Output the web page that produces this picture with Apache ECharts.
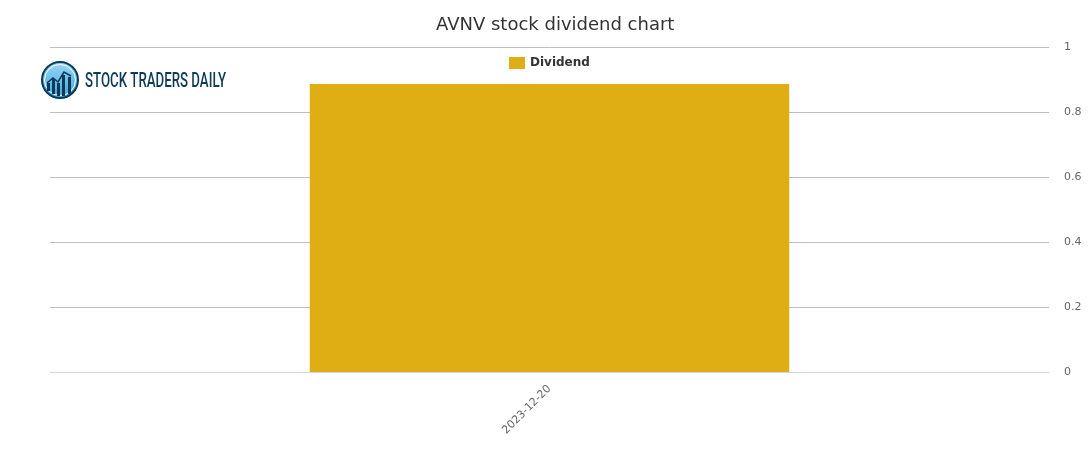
<!DOCTYPE html>
<html><head><meta charset="utf-8">
<script src="https://cdn.jsdelivr.net/npm/echarts@6/dist/echarts.min.js"></script>
<style>html,body{margin:0;padding:0;background:#fff}#c{width:1091px;height:450px}</style>
</head><body><div id="c"></div>
<script>
var categories = ['2023-12-20'];
var dividends = [0.886];
var yTicks = [0, 0.2, 0.4, 0.6, 0.8, 1];

var logoFont = '500 19px Roboto, sans-serif';
var logoText = 'STOCK TRADERS DAILY';
var cv = document.createElement('canvas').getContext('2d');
cv.font = logoFont;
var logoScale = 141 / cv.measureText(logoText).width;

var chart = echarts.init(document.getElementById('c'));
var logoX = 60, logoY = 80;
chart.setOption({
  animation: false,
  title: {text: 'AVNV stock dividend chart', left: 431, top: 11,
    textStyle: {fontFamily: 'DejaVu Sans', fontSize: 18, fontWeight: 'normal', color: '#333'}},
  legend: {data: ['Dividend'], top: 57, left: 509, itemWidth: 16, itemHeight: 12, itemGap: 5,
    icon: 'rect', padding: 0,
    textStyle: {fontFamily: 'DejaVu Sans', fontSize: 12, fontWeight: 'bold', color: '#333'}},
  grid: {left: 50, right: 42, top: 47, bottom: 78},
  xAxis: {type: 'category', data: categories,
    axisLine: {lineStyle: {color: '#ccd6eb'}}, axisTick: {show: false},
    axisLabel: {rotate: 45, color: '#666', fontFamily: 'DejaVu Sans', fontSize: 11, margin: 15}},
  yAxis: {type: 'value', position: 'right', min: 0, max: 1, interval: 0.2,
    splitLine: {lineStyle: {color: '#c0c0c0'}},
    axisLine: {show: false},
    axisTick: {show: false},
    axisLabel: {color: '#666', fontFamily: 'DejaVu Sans', fontSize: 11, margin: 15, padding: [3, 0, 0, 0],
      formatter: function(v){ return yTicks.indexOf(+v.toFixed(1)) >= 0 ? String(+v.toFixed(1)) : ''; }}},
  series: [{name: 'Dividend', type: 'bar', data: dividends, barWidth: '48%',
    itemStyle: {color: '#dfae14'}}],
  graphic: [
    {type: 'circle', shape: {cx: logoX, cy: logoY, r: 18}, style: {
      fill: new echarts.graphic.LinearGradient(0, 0, 0, 1, [{offset: 0, color: '#9dd8f7'}, {offset: 1, color: '#3aa3e0'}]),
      stroke: '#0d3a55', lineWidth: 2}},
    {type: 'circle', shape: {cx: logoX, cy: logoY, r: 15.5}, style: {fill: 'none', stroke: '#ffffff', lineWidth: 1}},
    {type: 'rect', shape: {x: logoX-13, y: logoY+3, width: 3, height: 8}, style: {fill: '#0d3a55'}},
    {type: 'rect', shape: {x: logoX-8, y: logoY-1, width: 3, height: 15}, style: {fill: '#0d3a55'}},
    {type: 'rect', shape: {x: logoX-3, y: logoY+3, width: 3, height: 13}, style: {fill: '#0d3a55'}},
    {type: 'rect', shape: {x: logoX+2, y: logoY-5, width: 3, height: 21}, style: {fill: '#0d3a55'}},
    {type: 'rect', shape: {x: logoX+8, y: logoY-3, width: 3, height: 17}, style: {fill: '#0d3a55'}},
    {type: 'polyline', shape: {points: [[logoX-13, logoY+3], [logoX-7, logoY-2], [logoX-2, logoY+2], [logoX+4, logoY-8], [logoX+11, logoY-4]]},
      style: {stroke: '#0d3a55', lineWidth: 1.5, fill: 'none'}},
    {type: 'text', x: 85, y: 72, scaleX: logoScale, scaleY: 1.08, style: {text: logoText, fill: '#0d3a55',
      font: logoFont}}
  ]
});
</script></body></html>
